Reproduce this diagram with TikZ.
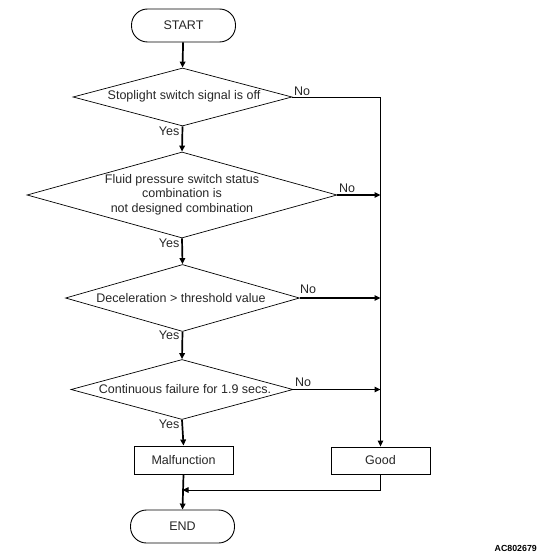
\documentclass[tikz,border=0pt]{standalone}
\usepackage{fontspec}
\setmainfont{Liberation Sans}
\usetikzlibrary{shapes.geometric,arrows.meta}
\tikzset{
  txt/.style={font=\fontsize{12.5}{14.7}\selectfont, text=black!85, inner sep=0pt, align=center},
  term/.style={draw, line width=0.9pt, rounded corners=16pt, minimum width=104pt, minimum height=33pt, inner sep=0pt, txt},
  procbox/.style={draw, line width=0.9pt, minimum width=99pt, minimum height=28pt, inner sep=0pt, txt},
  dec/.style={draw, line width=0.7pt, diamond, inner sep=0pt},
  lbl/.style={font=\fontsize{12.5}{14}\selectfont, text=black!85, inner sep=0pt},
  thickflow/.style={line width=1.7pt, -{Triangle[length=6pt,width=5.5pt]}},
  thinflow/.style={line width=0.9pt, -{Triangle[length=6pt,width=5.5pt]}},
}
\begin{document}
\begin{tikzpicture}[x=1pt,y=-1pt]
\useasboundingbox (0,0) rectangle (541,559);
% terminals and boxes
\node[term] (start) at (183.5,25.5) {START};
\node[procbox] (mal) at (183.5,460) {Malfunction};
\node[procbox, minimum height=27pt] (good) at (380.5,460.5) {\raisebox{1.5pt}{Good}};
\node[term] (end) at (182.5,526.5) {END};
% diamonds
\node[dec, minimum width=219pt, minimum height=58pt, aspect=3.78] (d1) at (182.5,97) {};
\node[txt] (t1) at (184,96) {Stoplight switch signal is off};
\node[dec, minimum width=310pt, minimum height=86pt, aspect=3.6] (d2) at (182,195) {};
\node[txt] (t2) at (182,194.5) {Fluid pressure switch status\\combination is\\not designed combination};
\node[dec, minimum width=234pt, minimum height=67pt, aspect=3.49] (d3) at (182.5,298) {};
\node[txt] (t3) at (181,298) {Deceleration > threshold value};
\node[dec, minimum width=222pt, minimum height=60pt, aspect=3.7] (d4) at (182,389.5) {};
\node[txt] (t4) at (185,389.5) {Continuous failure for 1.9 secs.};
% merge point
\coordinate (m) at (182.5,490);
% main flow
\draw[thickflow] (start) -- (d1.north);
\draw[thickflow] (d1.south) -- (d2.north);
\draw[thickflow] (d2.south) -- (d3.north);
\draw[thickflow] (d3.south) -- (d4.north);
\draw[thickflow] (d4.south) -- (mal.north);
\draw[thickflow] (mal.south) -- (end.north);
% No branches
\draw[thinflow] (d1.east) -| (good.north);
\draw[thickflow] (d2.east) -- (d2.east -| good.north);
\draw[thickflow] (d3.east) -- (d3.east -| good.north);
\draw[thickflow] (d4.east) -- (d4.east -| good.north);
\draw[thinflow] (good.south) |- (m);
% labels
\node[lbl, anchor=west] (n1) at (294,91) {No};
\node[lbl, anchor=west] (n2) at (339,188) {No};
\node[lbl, anchor=west] (n3) at (300,289.5) {No};
\node[lbl, anchor=west] (n4) at (295,382) {No};
\node[lbl, anchor=east] (y1) at (179.5,131) {Yes};
\node[lbl, anchor=east] (y2) at (179.5,243) {Yes};
\node[lbl, anchor=east] (y3) at (179.5,335) {Yes};
\node[lbl, anchor=east] (y4) at (179.5,424) {Yes};
\node[font=\fontsize{8.8}{10}\selectfont\bfseries, inner sep=0pt, anchor=east] (code) at (537,548) {AC802679};
\end{tikzpicture}
\end{document}
